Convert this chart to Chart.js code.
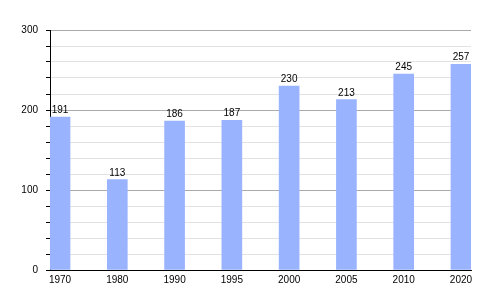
<!DOCTYPE html>
<html>
<head>
<meta charset="utf-8">
<script src="https://cdn.jsdelivr.net/npm/chart.js@4.4.0/dist/chart.umd.min.js"></script>
<style>
  html, body { margin: 0; padding: 0; background: #fff; }
  #wrap { width: 500px; height: 300px; }
</style>
</head>
<body>
<div id="wrap"><canvas id="chart" width="500" height="300"></canvas></div>
<script>
// annees et population
const annees = ["1970", "1980", "1990", "1995", "2000", "2005", "2010", "2020"];
const valeurs = [191, 113, 186, 187, 230, 213, 245, 257];
const yTicks = [0, 100, 200, 300];

const couleurBarre = "rgb(153, 179, 255)";
const police = "'Liberation Sans', Arial, sans-serif";

// etiquettes au dessus des barres
const etiquettes = {
  id: "etiquettes",
  afterDatasetsDraw(chart) {
    const ctx = chart.ctx;
    const meta = chart.getDatasetMeta(0);
    ctx.save();
    ctx.font = "10px " + police;
    ctx.fillStyle = "#000";
    ctx.textAlign = "center";
    ctx.textBaseline = "alphabetic";
    meta.data.forEach((bar, i) => {
      ctx.fillText(valeurs[i], bar.x, bar.y - 4);
    });
    ctx.restore();
  }
};

const canvas = document.getElementById("chart").getContext("2d");

const config = {
  type: "bar",
  data: {
    datasets: [
      {
        data: valeurs.map((v, i) => ({ x: i, y: v })),
        backgroundColor: couleurBarre,
        borderWidth: 0,
        barThickness: 20
      }
    ]
  },
  options: {
    responsive: false,
    animation: false,
    layout: { padding: { top: 30, right: 29, left: 0, bottom: 0 } },
    plugins: {
      legend: { display: false },
      tooltip: { enabled: false }
    },
    scales: {
      x: {
        type: "linear",
        offset: false,
        min: -0.175,
        max: 7.175,
        afterBuildTicks: (scale) => {
          scale.ticks = annees.map((a, i) => ({ value: i }));
        },
        afterFit: (scale) => { scale.height = 30; },
        grid: { display: false, drawTicks: false },
        border: { color: "#000", width: 1 },
        ticks: {
          autoSkip: false,
          maxRotation: 0,
          padding: 4,
          color: "#000",
          font: { family: police, size: 10 },
          callback: (v) => annees[v]
        }
      },
      y: {
        min: 0,
        max: 300,
        afterFit: (scale) => { scale.width = 50; },
        border: { color: "#000", width: 1 },
        grid: {
          color: (c) => (c.tick && c.tick.value % 100 === 0 ? "#aaaaaa" : "#e2e2e2"),
          tickColor: "#000",
          tickLength: 4
        },
        ticks: {
          stepSize: 20,
          autoSkip: false,
          padding: 8,
          color: "#000",
          font: { family: police, size: 10 },
          callback: (v) => (yTicks.includes(v) ? v : "")
        }
      }
    }
  },
  plugins: [etiquettes]
};

const chart = new Chart(canvas, config);
</script>
</body>
</html>
